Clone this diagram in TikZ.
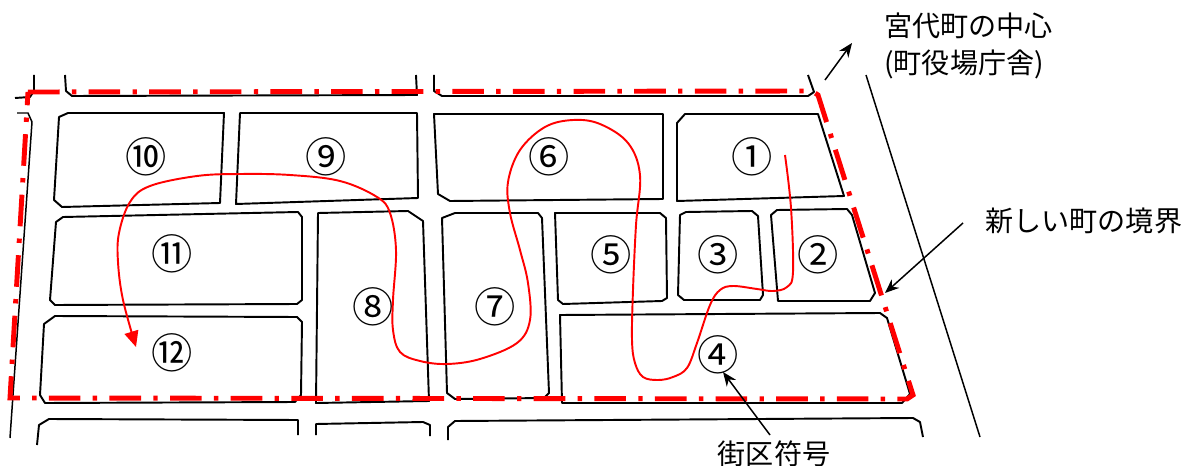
\documentclass[tikz,border=0pt]{standalone}
\usepackage{fontspec}
\setmainfont{Noto Sans CJK JP}
\usetikzlibrary{arrows.meta}

\begin{document}
\begin{tikzpicture}[x=0.02cm,y=-0.02cm]
\tikzstyle{every node}+=[inner sep=0pt]
\tikzstyle{block}=[black, line width=1.1pt, line join=round]
\tikzstyle{road}=[black, line width=0.85pt]
\tikzstyle{border}=[red, line width=2.8pt, dash pattern=on 18pt off 7pt on 2.5pt off 7pt]
\tikzstyle{route}=[red, line width=1.1pt, -{Triangle[length=9pt,width=8pt]}]
\tikzstyle{pointer}=[black, line width=0.85pt, -{Stealth[length=8pt,width=6.5pt]}]
\tikzstyle{num}=[font=\fontsize{23.5}{24}\selectfont]
\tikzstyle{lbl}=[font=\fontsize{16}{18}\selectfont]
\useasboundingbox (0,0) rectangle (1197,466);
% north row, cut off
\draw [block] (34,75) -- (34,91) -- (30,97) -- (15,98);
\draw [block] (65,75) -- (66,91) -- (72,96) -- (417,95) -- (416,75);
\draw [block] (434,75) -- (434,91) -- (442,96) -- (808,96) -- (814,92) -- (808,75);
% first row
\draw [block] (68,113) -- (224,113) -- (220,203) -- (62,207) -- (54,200) -- (59,117) -- cycle;
\draw [block] (240,113) -- (417,113) -- (418,198) -- (236,204) -- cycle;
\draw [block] (434,114) -- (663,114) -- (663,199) -- (450,201) -- (438,194) -- cycle;
\draw [block] (685,114) -- (818,114) -- (844,196) -- (677,201) -- (677,123) -- cycle;
% second and third rows
\draw [block] (63,217) -- (298,212) -- (302,217) -- (302,300) -- (297,304) -- (55,305) -- (50,300) -- (56,222) -- cycle;
\draw [block] (55,316) -- (297,317) -- (302,322) -- (301,395) -- (295,402) -- (45,403) -- (40,395) -- (44,324) -- cycle;
\draw [block] (318,213) -- (408,211) -- (423,221) -- (429,401) -- (316,403) -- cycle;
\draw [block] (455,213) -- (538,213) -- (542,218) -- (549,393) -- (544,398) -- (455,399) -- (447,393) -- (442,218) -- cycle;
\draw [block] (555,213) -- (660,213) -- (666,218) -- (667,298) -- (662,301) -- (563,304) -- (558,300) -- cycle;
\draw [block] (686,212) -- (752,211) -- (758,216) -- (763,295) -- (760,300) -- (684,300) -- (678,295) -- (680,215) -- cycle;
\draw [block] (777,210) -- (847,209) -- (852,215) -- (875,293) -- (870,301) -- (778,301) -- (771,215) -- cycle;
\draw [block] (560,315) -- (880,313) -- (887,318) -- (910,394) -- (902,403) -- (562,403) -- cycle;
% south row, cut off
\draw [block] (37,445) -- (39,425) -- (49,419) -- (298,420) -- (298,435);
\draw [block] (316,435) -- (316,424) -- (423,422) -- (430,425) -- (430,436);
\draw [block] (448,440) -- (448,427) -- (455,421) -- (913,418) -- (920,422) -- (923,437);
% roads
\draw [road] (17,113) -- (28,113) -- (32,122) -- (10,438);
\draw [road] (866,75) -- (980,437);
% new town boundary
\draw [border] (28,92) -- (812,91) -- (818,95) -- (913,395) -- (907,399) -- (10,398) -- cycle;
% block numbers
\node [num] (b1) at (752,157) {①};
\node [num] (b2) at (818,255) {②};
\node [num] (b3) at (718,255) {③};
\node [num] (b4) at (718,355) {④};
\node [num] (b5) at (611,255) {⑤};
\node [num] (b6) at (549,157) {⑥};
\node [num] (b7) at (495,307) {⑦};
\node [num] (b8) at (373,307) {⑧};
\node [num] (b9) at (326,157) {⑨};
\node [num] (b10) at (146,157) {⑩};
\node [num] (b11) at (172,254) {⑪};
\node [num] (b12) at (172,353) {⑫};
% order of the numbers
\draw [route] plot [smooth, tension=0.6] coordinates {(785,155) (791,208) (793,272) (787,287) (773,291) (757,289) (733,286) (720,290) (710,305) (697,343) (687,368) (673,377) (658,380) (643,377) (635,363) (632,340) (633,290) (636,225) (640,175) (628,143) (600,124) (573,120) (545,127) (520,150) (508,182) (510,213) (520,250) (528,283) (530,320) (517,343) (480,359) (447,364) (420,361) (400,352) (393,330) (393,300) (396,250) (390,213) (377,197) (340,181) (290,175) (240,174) (197,176) (150,186) (130,202) (119,233) (118,262) (123,300) (136,347)};
% labels
\node [lbl, anchor=west] (center) at (884,26) {宮代町の中心};
\node [lbl, anchor=west] (office) at (884,64) {(町役場庁舎)};
\node [lbl, anchor=west] (bound) at (985,221) {新しい町の境界};
\node [lbl] (code) at (774,454) {街区符号};
\coordinate (centertail) at (825,80);
\coordinate (centerhead) at (852,43);
\coordinate (boundtail) at (963,223);
\coordinate (boundhead) at (885,293);
\coordinate (codetail) at (770,435);
\coordinate (codehead) at (723,372);
\draw [pointer] (centertail) -- (centerhead);
\draw [pointer] (boundtail) -- (boundhead);
\draw [pointer] (codetail) -- (codehead);
\end{tikzpicture}
\end{document}
